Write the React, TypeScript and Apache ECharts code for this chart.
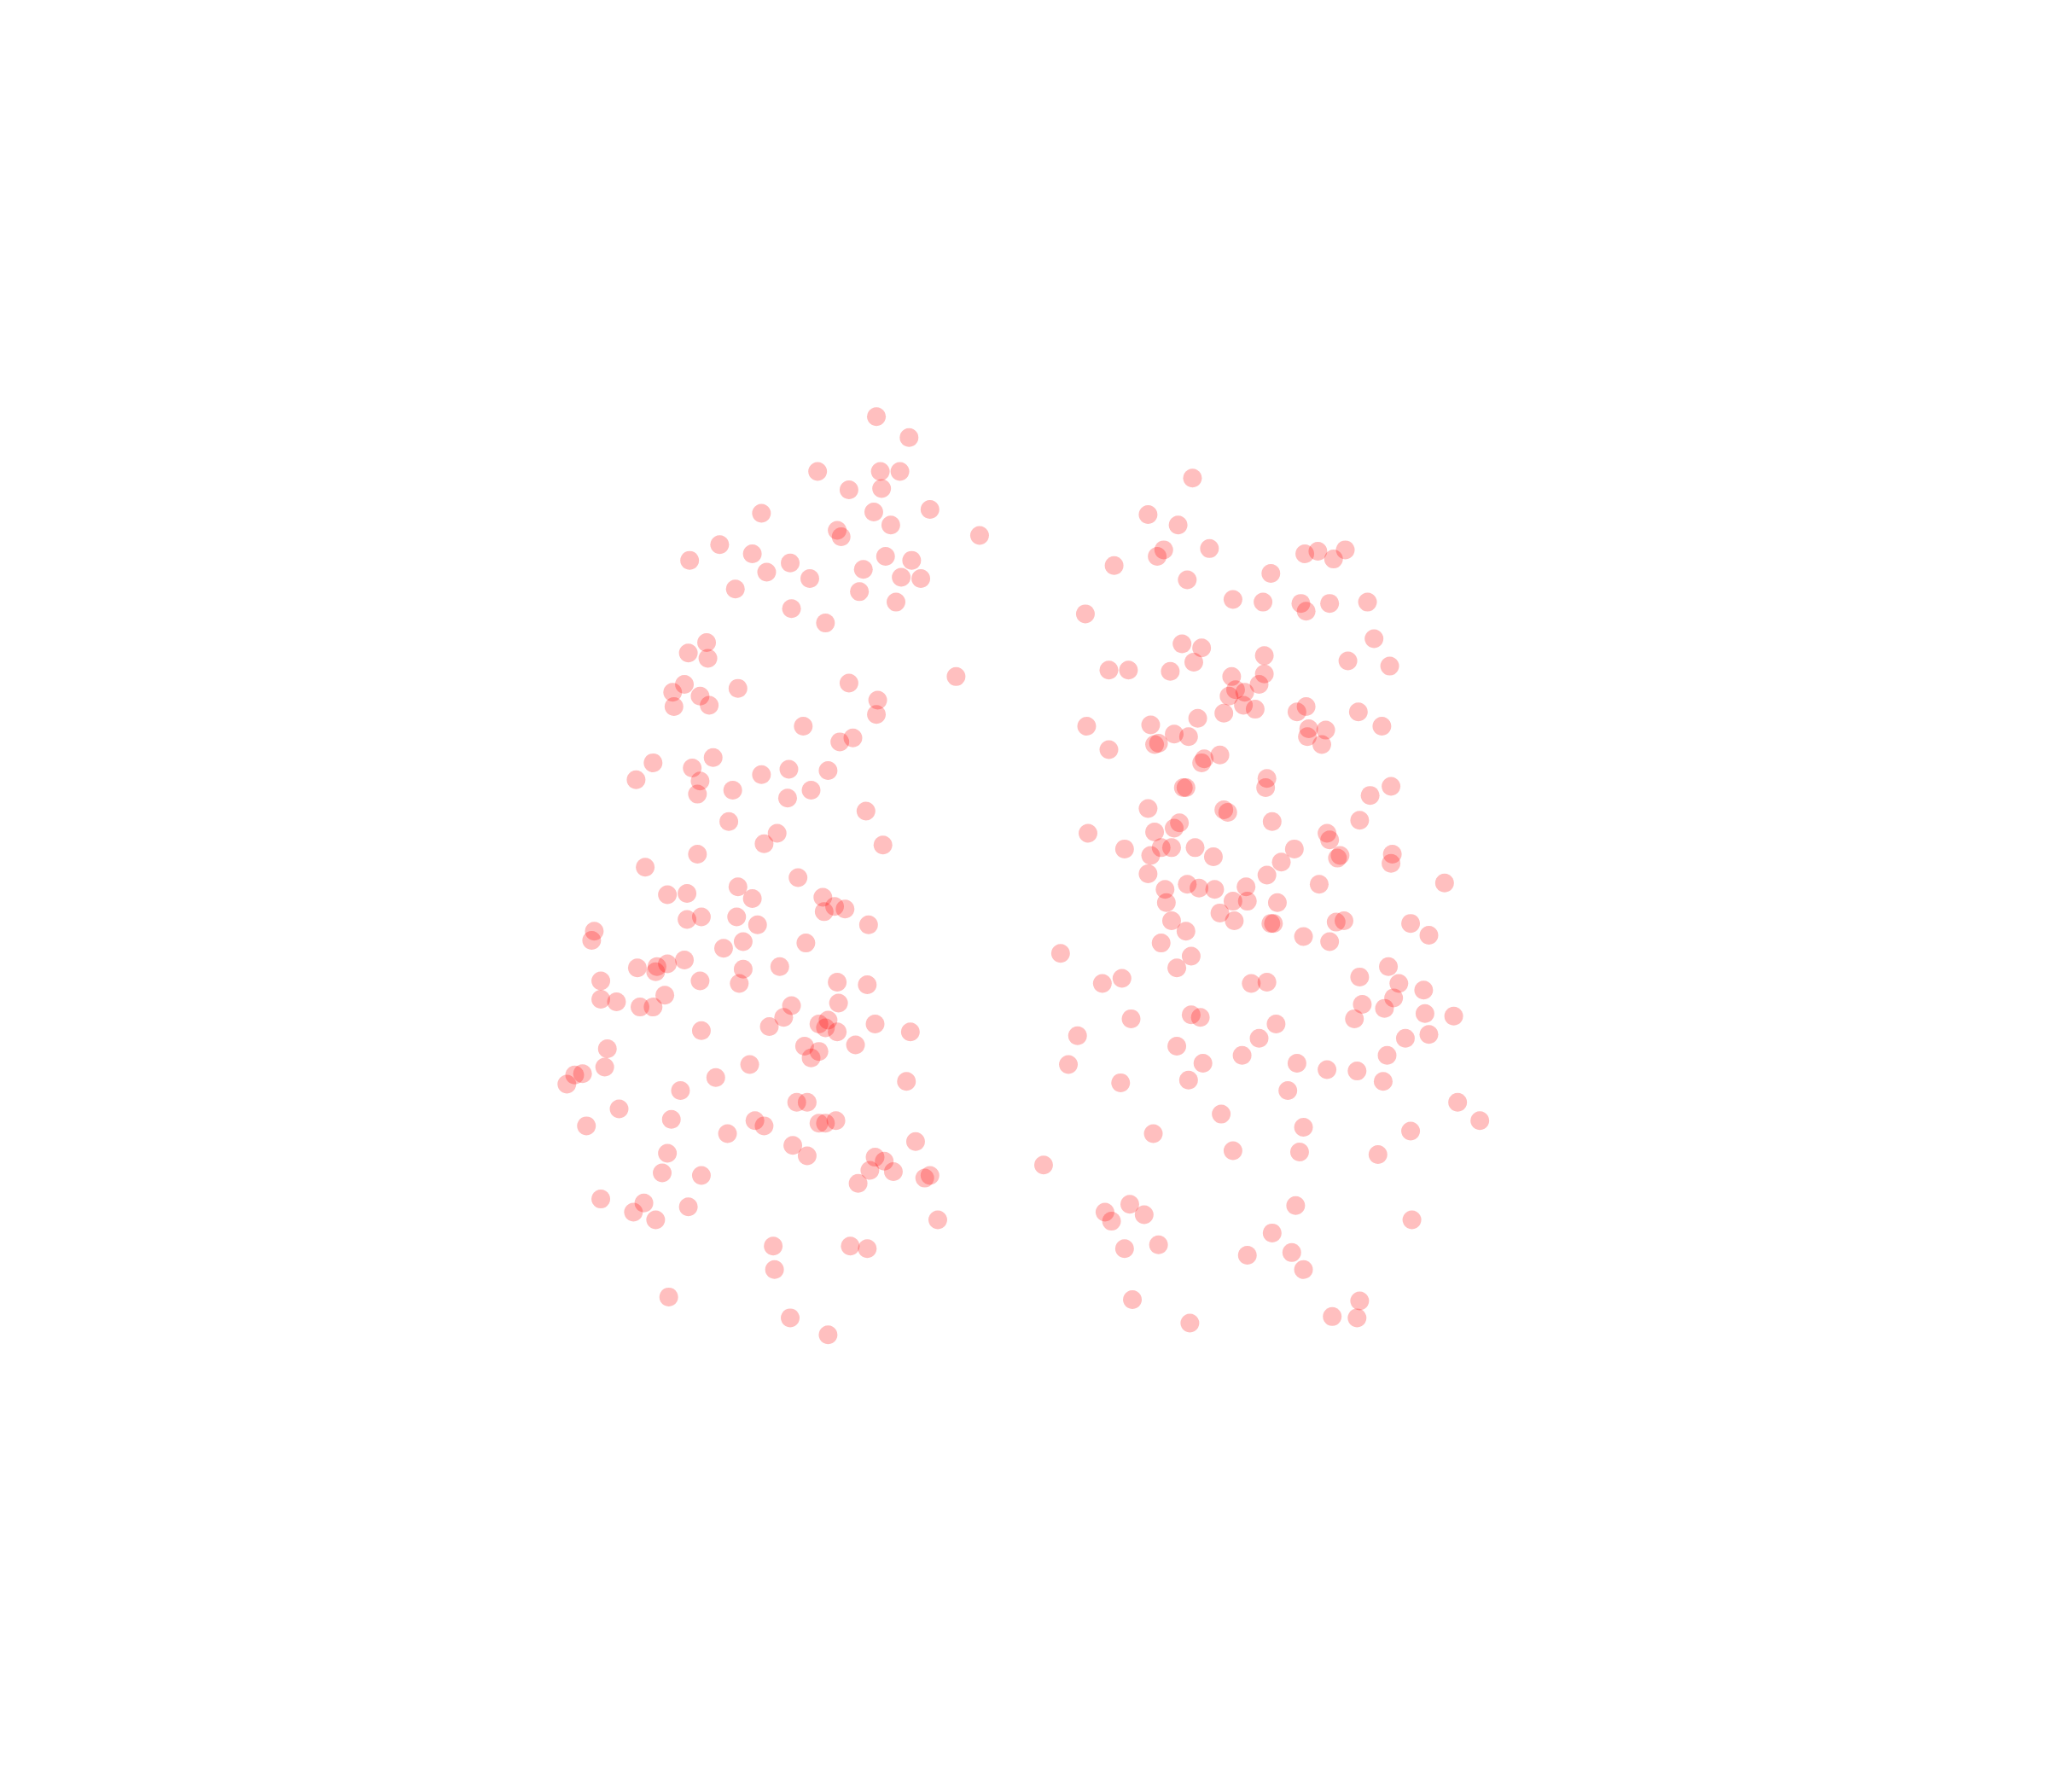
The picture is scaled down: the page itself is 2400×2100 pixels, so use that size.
import React, { useEffect, useRef } from "react";
import * as echarts from "echarts";

// Values (x grows right, y grows downward).
const leftGroup: [number, number][] = [
  [671,319],[696,335],[626,361],[674,361],[689,361],[650,375],[675,374],[583,393],[669,392],[712,390],
  [682,402],[641,406],[644,411],[750,410],[551,417],[576,424],[528,429],[605,431],[678,426],[698,429],
  [587,438],[661,436],[690,442],[705,443],[620,443],[563,451],[658,453],[606,466],[686,461],[632,477],
  [541,492],[527,500],[542,504],[732,518],[650,523],[565,527],[524,524],[515,530],[536,533],[672,536],
  [516,541],[543,540],[671,547],[615,556],[653,565],[643,568],[546,580],[500,584],[530,588],[604,589],
  [634,590],[583,593],[487,597],[536,598],[561,605],[621,605],[534,608],[603,611],[663,621],[558,629],
  [595,638],[585,646],[676,647],[534,654],[494,664],[611,672],
  [511,685],[526,684],[565,679],[576,688],[630,687],[639,694],[647,696],[631,698],[564,702],[537,702],
  [526,704],[580,708],[665,708],[455,713],[453,720],[569,721],[617,722],[554,726],[524,735],[488,741],
  [503,740],[511,738],[502,744],[569,742],[597,740],[460,751],[536,751],[566,753],[641,752],[664,754],
  [509,762],[460,765],[472,767],[490,771],[500,771],[642,768],[606,770],[600,779],[589,786],[627,784],
  [634,781],[632,787],[641,790],[670,784],[697,790],[537,789],[465,803],[655,800],[616,801],[627,805],
  [621,810],[463,817],[574,815],[440,823],[446,822],[434,830],[548,825],[694,828],[521,835],[474,849],
  [610,844],[618,844],[449,862],[514,857],[578,858],[585,862],[627,860],[632,860],[640,858],[557,868],
  [701,874],[607,877],[618,885],[511,883],[670,886],[677,889],[666,896],[684,897],[507,898],[537,900],
  [657,906],[708,902],[712,900],[460,918],[493,921],[485,928],[527,924],[502,934],[718,934],[592,954],
  [651,954],[664,956],[593,972],[512,993],[605,1009],[634,1022]
];

const rightGroup: [number, number][] = [
  [913,366],[879,394],[902,402],[891,421],[886,426],[926,420],[853,433],[909,444],[973,439],[999,424],
  [1009,422],[1030,421],[1021,428],[831,470],[944,459],[967,461],[996,462],[1000,468],[1018,462],[1047,461],
  [1052,489],[905,493],[920,496],[968,502],[914,507],[849,513],[864,513],[896,514],[943,518],[968,516],
  [1032,506],[1064,510],[964,524],[946,528],[953,530],[941,533],[952,540],[937,546],[961,543],[993,545],
  [1000,541],[1040,545],[881,555],[832,556],[899,562],[910,564],[887,569],[884,570],[917,550],[1002,558],
  [1015,559],[1001,564],[1012,570],[1058,556],[849,574],[934,578],[922,581],[920,584],[970,596],[969,603],
  [908,603],[906,603],[1065,602],[1049,609],[879,619],[937,620],[940,622],[974,629],[903,630],[1041,628],
  [884,637],[899,634],[833,638],[1016,638],[1018,643],[861,650],[889,649],[897,649],[915,649],[881,655],
  [929,656],[991,650],[981,660],[1026,655],[1024,657],[1066,654],[1065,661],[879,669],[970,670],[892,681],
  [909,677],[918,680],[930,681],[954,679],[1010,677],[1106,676],[893,691],[944,690],[955,690],[978,691],
  [934,699],[945,705],[897,705],[973,707],[975,707],[1023,706],[1029,705],[908,713],[1080,707],[1094,716],
  [889,722],[998,717],[1018,721],[812,730],[912,732],[901,741],[1063,740],[844,753],[859,749],[958,753],
  [970,752],[1041,748],[1071,753],[1090,758],[1067,764],[1043,769],[1060,772],[912,777],[919,779],[866,780],
  [977,784],[1037,780],[1091,776],[1113,778],[825,793],[964,795],[1076,795],[1094,792],[901,801],[951,808],
  [1062,808],[993,814],[921,814],[818,815],[1016,819],[1039,820],[910,827],[858,829],[1059,828],[986,835],
  [1116,844],[935,853],[1133,858],[998,863],[883,868],[1080,866],[944,881],[995,882],[1055,884],[799,892],
  [865,922],[846,928],[876,930],[851,935],[992,923],[1081,934],[974,944],[861,956],[887,953],[955,961],
  [989,959],[998,972],[867,995],[1041,996],[911,1013],[1020,1008],[1039,1009]
];

const X_RANGE: [number, number] = [0, 1568];
const Y_RANGE: [number, number] = [0, 1372];

export default function App() {
  const ref = useRef<HTMLDivElement>(null);
  useEffect(() => {
    if (!ref.current) return;
    const chart = echarts.init(ref.current, undefined, { renderer: "svg" });
    const itemStyle = { color: "#ff0000", opacity: 0.25 };
    chart.setOption({
      animation: false,
      backgroundColor: "#ffffff",
      grid: { left: 0, right: 0, top: 0, bottom: 0 },
      xAxis: { type: "value", min: X_RANGE[0], max: X_RANGE[1], show: false },
      yAxis: { type: "value", min: Y_RANGE[0], max: Y_RANGE[1], inverse: true, show: false },
      series: [
        { type: "scatter", data: leftGroup, symbolSize: 22, itemStyle },
        { type: "scatter", data: rightGroup, symbolSize: 22, itemStyle }
      ]
    });
    return () => chart.dispose();
  }, []);
  return (
    <div
      ref={ref}
      style={{ position: "absolute", left: 0, top: 0, width: 2400, height: 2100 }}
    />
  );
}
